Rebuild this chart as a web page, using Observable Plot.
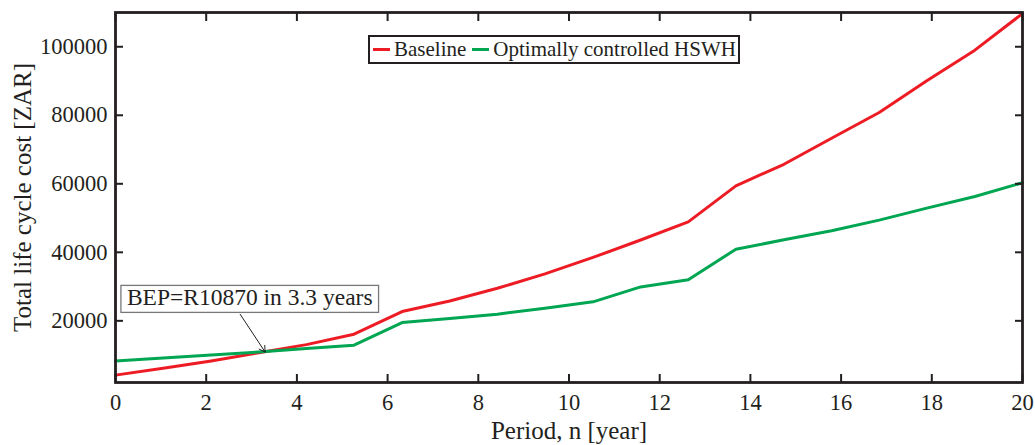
<!DOCTYPE html>
<html>
<head>
<meta charset="utf-8">
<script src="https://cdn.jsdelivr.net/npm/d3@7"></script>
<script src="https://cdn.jsdelivr.net/npm/@observablehq/plot@0.6"></script>
<style>
  body { margin: 0; background: #fff; }
  #chart { position: relative; width: 1035px; height: 445px; font-family: "Liberation Serif", serif; color: #231f20; }
  #legend { position: absolute; left: 368px; top: 35px; height: 25px; padding: 0 2px 0 2px;
            border: 2px solid #231f20; background: #fff; display: flex; align-items: center;
            font-size: 21px; white-space: nowrap; }
  #legend .sw { display: inline-block; width: 17px; height: 3px; margin: 0 4px 0 1px; }
  #legend .item { display: flex; align-items: center; margin-right: 5px; }
  #legend .item:last-child { margin-right: 0; }
</style>
</head>
<body>
<div id="chart"></div>
<script>
// Period axis (years) at which the life cycle cost is evaluated
const years = [0, 1.05, 2.11, 3.16, 4.21, 5.26, 6.32, 7.37, 8.42, 9.47,
               10.53, 11.58, 12.63, 13.68, 14.74, 15.79, 16.84, 17.89, 18.95, 20];

// Total life cycle cost [ZAR] per scenario
const baselineCost = [4150, 6150, 8300, 10700, 13050, 16100, 22700, 25800, 29500, 33700,
                      38500, 43600, 48900, 59400, 65700, 73300, 80800, 90100, 99000, 109700];
const hswhCost = [8300, 9150, 10000, 10900, 11900, 12900, 19500, 20700, 21950, 23700,
                  25550, 29900, 32000, 40900, 43650, 46300, 49400, 52900, 56300, 60300];

const seriesNames = ["Baseline", "Optimally controlled HSWH"];
const seriesColors = ["#ed1c24", "#00a651"];

const xTicks = [0, 2, 4, 6, 8, 10, 12, 14, 16, 18, 20];
const yTicks = [20000, 40000, 60000, 80000, 100000];

// Break-even point annotation
const bepYear = 3.3;
const bepCost = 10870;
const bepLabel = { x: 2.96, y: 26700, tailX: 2.75, tailY: 21900 };

const ink = "#231f20";
const font = "Liberation Serif";

const rows = years.flatMap((x, i) => [
  { x, y: baselineCost[i], s: seriesNames[0] },
  { x, y: hswhCost[i], s: seriesNames[1] }
]);

const axisCommon = { stroke: ink, strokeWidth: 2, fontSize: 22.5, fill: ink, labelArrow: "none" };

const chart = Plot.plot({
  width: 1035,
  height: 445,
  marginTop: 12,
  marginRight: 13,
  marginBottom: 63,
  marginLeft: 115,
  style: { fontFamily: font, fontSize: "21px", color: ink, background: "#fff", overflow: "visible" },
  x: { domain: [0, 20] },
  y: { domain: [2000, 110000] },
  color: { domain: seriesNames, range: seriesColors },
  marks: [
    Plot.line(rows, { x: "x", y: "y", z: "s", stroke: "s", strokeWidth: 3, strokeLinejoin: "round" }),
    Plot.axisX(xTicks, { ...axisCommon, anchor: "bottom", tickSize: -8, tickPadding: 20,
      label: "Period, n [year]", labelAnchor: "center", labelOffset: 56 }),
    Plot.axisX(xTicks, { ...axisCommon, anchor: "top", tickSize: -8, tickFormat: () => null, label: null }),
    Plot.axisY(yTicks, { ...axisCommon, anchor: "left", tickSize: -8, tickPadding: 16,
      tickFormat: d3.format("d"),
      label: "Total life cycle cost [ZAR]", labelAnchor: "center", labelOffset: 102 }),
    Plot.axisY(yTicks, { ...axisCommon, anchor: "right", tickSize: -8, tickFormat: () => null, label: null }),
    Plot.frame({ stroke: ink, strokeWidth: 2.8 }),
    Plot.arrow([bepLabel], { x1: "tailX", y1: "tailY", x2: () => bepYear, y2: () => bepCost,
      stroke: ink, strokeWidth: 1, headLength: 10, insetEnd: 0 }),
    Plot.text([bepLabel], { x: "x", y: "y", text: () => `BEP=R${bepCost} in ${bepYear} years`,
      fontSize: 23.5, fill: ink, fontFamily: font })
  ]
});

const container = document.getElementById("chart");
container.appendChild(chart);

const svg = d3.select(chart);

// Axis titles are set larger than the tick labels
svg.selectAll('g[aria-label="x-axis label"] text, g[aria-label="y-axis label"] text')
  .attr("font-size", 25);

// Outline box behind the break-even annotation
svg.selectAll("text")
  .filter(function () { return this.textContent.startsWith("BEP="); })
  .each(function () {
    const b = this.getBBox();
    const g = this.parentNode;
    d3.select(g).insert("rect", () => this)
      .attr("x", b.x - 6).attr("y", b.y + 1)
      .attr("width", b.width + 12).attr("height", b.height + 1)
      .attr("transform", this.getAttribute("transform"))
      .attr("fill", "#fff").attr("stroke", "#77787b").attr("stroke-width", 1.3);
  });

// Legend inside the plot area
const legend = document.createElement("div");
legend.id = "legend";
seriesNames.forEach((name, i) => {
  const item = document.createElement("span");
  item.className = "item";
  const sw = document.createElement("span");
  sw.className = "sw";
  sw.style.background = seriesColors[i];
  item.appendChild(sw);
  item.appendChild(document.createTextNode(name));
  legend.appendChild(item);
});
container.appendChild(legend);
</script>
</body>
</html>
